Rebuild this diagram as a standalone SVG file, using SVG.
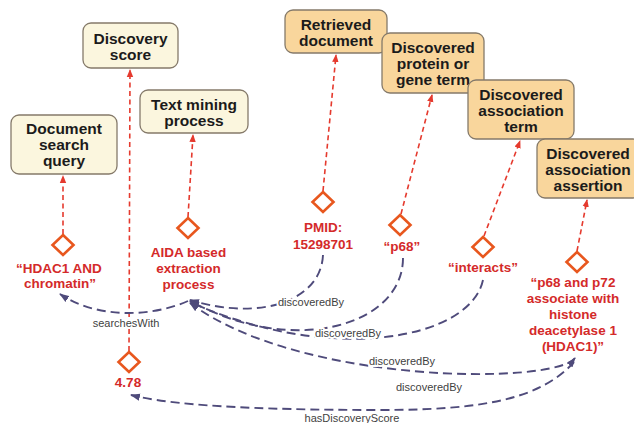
<svg xmlns="http://www.w3.org/2000/svg" xmlns:xlink="http://www.w3.org/1999/xlink" width="634" height="423" viewBox="0 0 634 423">
<style>
.box{stroke:#857a6a;stroke-width:1.3}
.pale{fill:#fbf6de}
.tan{fill:#f9d69c}
.bt{font-family:"Liberation Sans",Arial,sans-serif;font-weight:bold;font-size:15.5px;fill:#1b1b1b;text-anchor:middle}
.rt{font-family:"Liberation Sans",Arial,sans-serif;font-weight:bold;font-size:13.5px;fill:#d42a2a;text-anchor:middle}
.lt{font-family:"Liberation Sans",Arial,sans-serif;font-size:11px;fill:#3f3f3f;text-anchor:middle;stroke:#ffffff;stroke-width:4;stroke-linejoin:round;paint-order:stroke}
.dia{fill:#ffffff;stroke:#e8571e;stroke-width:2.6}
.red{fill:none;stroke:#e53a2e;stroke-width:1.6;stroke-dasharray:5 3.5;marker-end:url(#ra)}
.dk{fill:none;stroke:#4f4b7b;stroke-width:1.9;stroke-dasharray:9 5;marker-end:url(#da)}
</style>
<defs>
<marker id="ra" markerUnits="userSpaceOnUse" markerWidth="8" markerHeight="8" viewBox="0 0 8 8" refX="7" refY="4" orient="auto">
<path d="M0,0.8 L8,4 L0,7.2Z" fill="#e53a2e"/>
</marker>
<marker id="da" markerUnits="userSpaceOnUse" markerWidth="10" markerHeight="8" viewBox="0 0 10 8" refX="9" refY="4" orient="auto-start-reverse">
<path d="M0,0.5 L10,4 L0,7.5Z" fill="#4f4b7b"/>
</marker>
<path id="dm" d="M0,-10 L10.5,0 L0,10 L-10.5,0Z"/>
</defs>
<rect width="634" height="423" fill="#ffffff"/>

<g id="connectors">
<path class="red" d="M63,234 L63,176"/>
<path class="red" d="M129,351 L130,70"/>
<path class="red" d="M188,217 L193,135"/>
<path class="red" d="M323,191 L336,55"/>
<path class="red" d="M401,214 L432,95"/>
<path class="red" d="M484,236 L520,141"/>
<path class="red" d="M577,251 L587,200"/>

<path class="dk" d="M188,301 C150,318 95,318 60,294"/>
<path class="dk" d="M323,255 C321,300 262,322 190,300"/>
<path class="dk" d="M403,258 C403,325 295,358 190,301"/>
<path class="dk" d="M483,280 C470,340 330,365 190,302"/>
<path class="dk" style="marker-start:url(#da)" d="M575,358 C555,385 300,385 190,303"/>
<path class="dk" d="M574,362 C540,400 480,410 380,410 C250,410 170,405 131,395"/>

<text class="lt" x="126" y="327">searchesWith</text>
<text class="lt" x="311" y="306">discoveredBy</text>
<text class="lt" x="348" y="337">discoveredBy</text>
<text class="lt" x="402" y="365">discoveredBy</text>
<text class="lt" x="429" y="391">discoveredBy</text>
<text class="lt" x="352" y="422">hasDiscoveryScore</text>
</g>

<g id="discovery-score">
<rect class="box pale" x="83" y="23" width="95" height="45" rx="8"/>
<text class="bt" x="130.5" y="43.5">Discovery</text>
<text class="bt" x="130.5" y="59.5">score</text>
</g>
<g id="text-mining-process">
<rect class="box pale" x="140" y="90" width="108" height="43" rx="8"/>
<text class="bt" x="194" y="110">Text mining</text>
<text class="bt" x="194" y="126">process</text>
</g>
<g id="document-search-query">
<rect class="box pale" x="11" y="115" width="106" height="59" rx="8"/>
<text class="bt" x="64" y="134">Document</text>
<text class="bt" x="64" y="150">search</text>
<text class="bt" x="64" y="166">query</text>
</g>
<g id="retrieved-document">
<rect class="box tan" x="285" y="10" width="102" height="43" rx="8"/>
<text class="bt" x="336" y="29.5">Retrieved</text>
<text class="bt" x="336" y="45.5">document</text>
</g>
<g id="discovered-protein">
<rect class="box tan" x="382" y="33" width="102" height="60" rx="8"/>
<text class="bt" x="433" y="53">Discovered</text>
<text class="bt" x="433" y="69">protein or</text>
<text class="bt" x="433" y="85">gene term</text>
</g>
<g id="discovered-association-term">
<rect class="box tan" x="468" y="80" width="106" height="59" rx="8"/>
<text class="bt" x="521" y="99.5">Discovered</text>
<text class="bt" x="521" y="115.5">association</text>
<text class="bt" x="521" y="131.5">term</text>
</g>
<g id="discovered-association-assertion">
<rect class="box tan" x="537" y="139" width="104" height="59" rx="8"/>
<text class="bt" x="588" y="159">Discovered</text>
<text class="bt" x="588" y="175">association</text>
<text class="bt" x="588" y="191">assertion</text>
</g>

<g id="query-value">
<use xlink:href="#dm" class="dia" x="63" y="245"/>
<text class="rt" x="59" y="273">“HDAC1 AND</text>
<text class="rt" x="60" y="288">chromatin”</text>
</g>
<g id="aida-process">
<use xlink:href="#dm" class="dia" x="188" y="228"/>
<text class="rt" x="188.5" y="257">AIDA based</text>
<text class="rt" x="188.5" y="273">extraction</text>
<text class="rt" x="188.5" y="289">process</text>
</g>
<g id="score-value">
<use xlink:href="#dm" class="dia" x="129" y="362"/>
<text class="rt" x="128" y="387">4.78</text>
</g>
<g id="pmid">
<use xlink:href="#dm" class="dia" x="323" y="202"/>
<text class="rt" x="323" y="232">PMID:</text>
<text class="rt" x="323" y="249">15298701</text>
</g>
<g id="p68">
<use xlink:href="#dm" class="dia" x="400" y="225"/>
<text class="rt" x="402" y="251">“p68”</text>
</g>
<g id="interacts">
<use xlink:href="#dm" class="dia" x="483" y="247"/>
<text class="rt" x="483" y="272">“interacts”</text>
</g>
<g id="assertion-value">
<use xlink:href="#dm" class="dia" x="577" y="262"/>
<text class="rt" x="573" y="287">“p68 and p72</text>
<text class="rt" x="573" y="303">associate with</text>
<text class="rt" x="573" y="319">histone</text>
<text class="rt" x="573" y="335">deacetylase 1</text>
<text class="rt" x="573" y="351">(HDAC1)”</text>
</g>
</svg>
